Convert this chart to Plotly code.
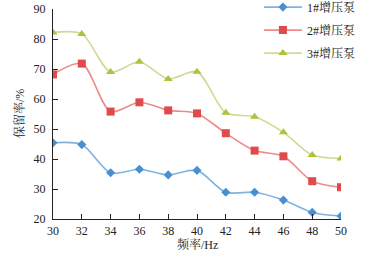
import plotly.graph_objects as go

freq = [30, 32, 34, 36, 38, 40, 42, 44, 46, 48, 50]
pump1 = [45.4, 44.8, 35.4, 36.6, 34.7, 36.2, 28.9, 28.9, 26.3, 22.2, 21.0]
pump2 = [68.2, 71.8, 55.8, 58.9, 56.2, 55.2, 48.6, 42.8, 40.9, 32.6, 30.6]
pump3 = [82.2, 81.7, 69.0, 72.4, 66.7, 69.1, 55.4, 54.1, 48.9, 41.3, 40.2]
names = ["1#增压泵", "2#增压泵", "3#增压泵"]
y_ticks = [20, 30, 40, 50, 60, 70, 80, 90]
x_ticks = [30, 32, 34, 36, 38, 40, 42, 44, 46, 48, 50]

series = [
    (pump1, names[0], "#7FB2E0", "#4A8FD0", "diamond", 7),
    (pump2, names[1], "#F08A8A", "#E04A4A", "square", 8),
    (pump3, names[2], "#CDDC95", "#A9C43E", "triangle-up", 8),
]

font_fam = "Liberation Serif, Times New Roman, Noto Serif CJK SC, Noto Sans CJK SC, serif"

fig = go.Figure()
for i, (vals, name, lc, mc, sym, sz) in enumerate(series):
    fig.add_trace(go.Scatter(
        x=freq, y=vals, name=name, mode="lines+markers",
        line=dict(color=lc, width=1.6, shape="spline", smoothing=0.8),
        marker=dict(color=mc, symbol=sym, size=sz),
        legendgroup=f"g{i}",
    ))

fig.update_layout(
    width=368, height=253,
    margin=dict(l=53, r=27, t=9, b=34, autoexpand=False),
    paper_bgcolor="white", plot_bgcolor="white",
    font=dict(family=font_fam, size=12, color="#222"),
    showlegend=True,
    legend=dict(x=0.715, y=1.078, xanchor="left", yanchor="top",
                bgcolor="rgba(255,255,255,0)", font=dict(size=12),
                tracegroupgap=4, itemwidth=38),
    xaxis=dict(range=[30, 50], tickvals=x_ticks, showgrid=False,
               showline=True, linecolor="#222", linewidth=1.2,
               ticks="inside", ticklen=5, tickcolor="#222",
               automargin=False,
               tickfont=dict(size=12), zeroline=False),
    yaxis=dict(range=[20, 90], tickvals=y_ticks, showgrid=False,
               showline=True, linecolor="#222", linewidth=1.2,
               ticks="inside", ticklen=5, tickcolor="#222",
               ticklabelstandoff=4, automargin=False,
               tickfont=dict(size=12), zeroline=False),
    annotations=[
        dict(text="频率/Hz", xref="paper", yref="paper", x=0.5, y=0,
             yshift=-25, xanchor="center", yanchor="middle", showarrow=False,
             font=dict(size=12)),
        dict(text="保留率/%", xref="paper", yref="paper", x=0, y=0.5,
             xshift=-34, xanchor="center", yanchor="middle", showarrow=False,
             textangle=-90, font=dict(size=12)),
    ],
)

fig.write_html("out.html", config={"displayModeBar": False},
               post_script="document.body.style.margin='0';")
